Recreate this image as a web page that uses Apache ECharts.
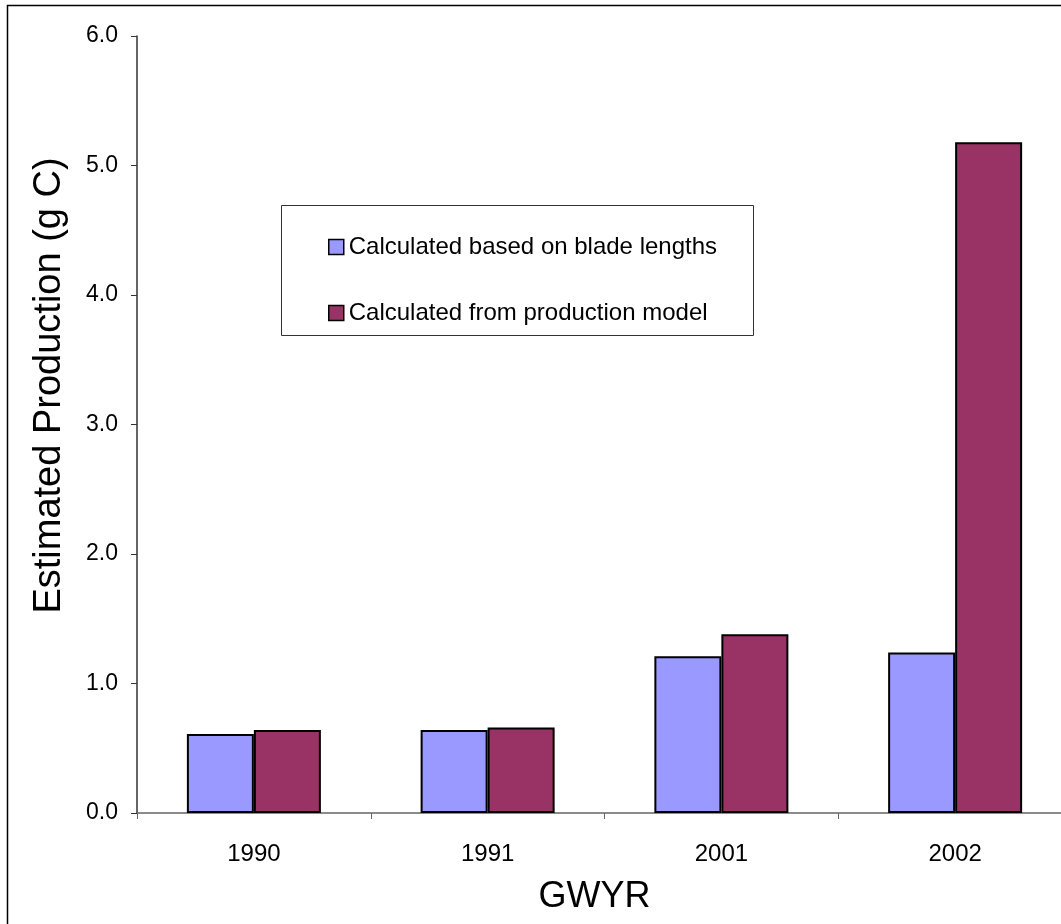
<!DOCTYPE html>
<html>
<head>
<meta charset="utf-8">
<style>
  html, body { margin: 0; padding: 0; background: #fff; overflow: hidden; }
  /* the figure is wider than the page; its right edge is cut off */
  #chart { width: 1100px; height: 924px; }
</style>
<script src="https://cdn.jsdelivr.net/npm/echarts@6/dist/echarts.min.js"></script>
</head>
<body>
<div id="chart"></div>
<script>
// Years of the survey (GWYR)
const years = ['1990', '1991', '2001', '2002'];

// Estimated production, g C
const bladeLengthValues = [0.61, 0.64, 1.21, 1.24];
const productionModelValues = [0.64, 0.66, 1.38, 5.18];

const seriesNames = ['Calculated based on blade lengths', 'Calculated from production model'];

const FONT = '"Liberation Sans", Arial, sans-serif';

const chart = echarts.init(document.getElementById('chart'), null, { renderer: 'canvas' });

chart.setOption({
  backgroundColor: '#ffffff',
  animation: false,
  textStyle: { fontFamily: FONT, color: '#000' },
  grid: { left: 137, top: 36, right: 28, bottom: 111, containLabel: false },
  graphic: [
    {
      // outer frame of the figure
      type: 'rect',
      shape: { x: 7.5, y: 5.5, width: 1200, height: 1100 },
      style: { fill: 'none', stroke: '#000', lineWidth: 1.5 },
      silent: true
    },
    {
      // legend frame
      type: 'rect',
      shape: { x: 281.5, y: 205.5, width: 472, height: 130 },
      style: { fill: '#fff', stroke: '#333', lineWidth: 1 },
      silent: true,
      z: 1
    }
  ],
  legend: {
    orient: 'vertical',
    left: 323,
    top: 229,
    itemWidth: 15,
    itemHeight: 15,
    itemGap: 40,
    icon: 'rect',
    z: 5,
    itemStyle: { borderColor: '#000', borderWidth: 1.5 },
    textStyle: { fontFamily: FONT, fontSize: 24, color: '#000', lineHeight: 26 },
    data: seriesNames
  },
  xAxis: {
    type: 'category',
    data: years,
    boundaryGap: true,
    name: 'GWYR',
    nameLocation: 'middle',
    nameGap: 66,
    nameTextStyle: { fontFamily: FONT, fontSize: 36, color: '#000', padding: [0, 20, 0, 0] },
    axisLine: { show: true, lineStyle: { color: '#666', width: 1.5 } },
    axisTick: { show: true, length: 6, alignWithLabel: false, lineStyle: { color: '#666', width: 1 } },
    axisLabel: { fontFamily: FONT, fontSize: 24, color: '#000', margin: 29 },
    splitLine: { show: false }
  },
  yAxis: {
    type: 'value',
    min: 0,
    max: 6,
    interval: 1,
    name: 'Estimated Production (g C)',
    nameLocation: 'middle',
    nameGap: 68,
    nameRotate: 90,
    nameTextStyle: { fontFamily: FONT, fontSize: 38, color: '#000', padding: [0, 0, 0, 78] },
    axisLine: { show: true, lineStyle: { color: '#333', width: 1.5 } },
    axisTick: { show: true, length: 6, lineStyle: { color: '#333', width: 1 } },
    axisLabel: {
      fontFamily: FONT, fontSize: 23, color: '#000', margin: 19,
      formatter: v => v.toFixed(1)
    },
    splitLine: { show: false }
  },
  series: [
    {
      name: seriesNames[0],
      type: 'bar',
      data: bladeLengthValues,
      barWidth: 67,
      barGap: '0%',
      itemStyle: { color: '#9999FF', borderColor: '#000', borderWidth: 2 }
    },
    {
      name: seriesNames[1],
      type: 'bar',
      data: productionModelValues,
      barWidth: 67,
      barGap: '0%',
      itemStyle: { color: '#993366', borderColor: '#000', borderWidth: 2 }
    }
  ]
});
</script>
</body>
</html>
